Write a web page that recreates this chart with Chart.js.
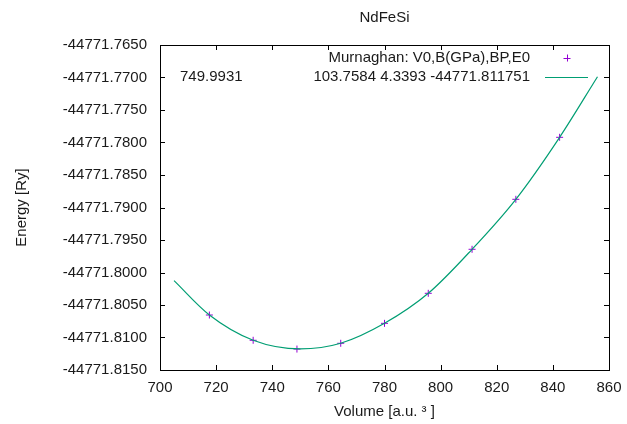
<!DOCTYPE html>
<html>
<head>
<meta charset="utf-8">
<title>NdFeSi</title>
<script src="https://cdn.jsdelivr.net/npm/chart.js@4.4.1/dist/chart.umd.min.js"></script>
<style>
  html, body { margin: 0; padding: 0; background: #fff; }
  #wrap { width: 627px; height: 424px; }
</style>
</head>
<body>
<div id="wrap"><canvas id="myChart"></canvas></div>
<script>
// calculated points
const volumes  = [717.6, 733.2, 748.8, 764.4, 780.0, 795.6, 811.2, 826.8, 842.4];
const energies = [-44771.80654, -44771.81043, -44771.81178, -44771.81089, -44771.80782,
                  -44771.80320, -44771.79643, -44771.78874, -44771.77920];

// Murnaghan fit curve
const fitVolumes  = [705, 717.6, 733.2, 750, 764.4, 780.0, 795.6, 811.2, 826.8, 842.4, 855.9];
const fitEnergies = [-44771.80126, -44771.80654, -44771.81043, -44771.81176, -44771.81089, -44771.80782,
                     -44771.80320, -44771.79643, -44771.78874, -44771.77920, -44771.76988];

const xTicks = [700, 720, 740, 760, 780, 800, 820, 840, 860];
const yTicks = [-44771.815, -44771.810, -44771.805, -44771.800, -44771.795, -44771.790,
                -44771.785, -44771.780, -44771.775, -44771.770, -44771.765];

const pointLabel = 'Murnaghan: V0,B(GPa),BP,E0';
const fitLabel = '749.9931                 103.7584 4.3393 -44771.811751';

const FONT = '"Liberation Sans", Arial, sans-serif';
const TEXT = '#1a1a1a';

// gnuplot style box with tics pointing inwards on all four sides
const gnuFrame = {
  id: 'gnuFrame',
  afterDatasetsDraw(chart) {
    const {ctx, chartArea: a, scales: {x, y}} = chart;
    const len = 5;
    ctx.save();
    ctx.strokeStyle = '#000';
    ctx.lineWidth = 1;
    ctx.beginPath();
    x.ticks.forEach(t => {
      const px = Math.round(x.getPixelForValue(t.value)) + 0.5;
      ctx.moveTo(px, a.bottom); ctx.lineTo(px, a.bottom - len);
      ctx.moveTo(px, a.top); ctx.lineTo(px, a.top + len);
    });
    y.ticks.forEach(t => {
      const py = Math.round(y.getPixelForValue(t.value)) + 0.5;
      ctx.moveTo(a.left, py); ctx.lineTo(a.left + len, py);
      ctx.moveTo(a.right, py); ctx.lineTo(a.right - len, py);
    });
    ctx.stroke();
    ctx.strokeRect(Math.round(a.left) + 0.5, Math.round(a.top) + 0.5,
                   Math.round(a.right - a.left), Math.round(a.bottom - a.top));
    ctx.restore();
  }
};

// key in the top right corner, text right aligned, sample on the right
const keyBox = {
  id: 'keyBox',
  afterDatasetsDraw(chart) {
    const {ctx, chartArea: a} = chart;
    const textRight = a.right - 79;
    const rows = [a.top + 13, a.top + 32];
    ctx.save();
    ctx.font = '15px ' + FONT;
    ctx.textAlign = 'right';
    ctx.textBaseline = 'middle';
    ctx.fillStyle = TEXT;
    chart.data.datasets.forEach((ds, i) => {
      const yy = rows[i];
      ctx.fillText(ds.label, textRight, yy);
      ctx.strokeStyle = ds.borderColor;
      ctx.lineWidth = 1;
      ctx.beginPath();
      if (ds.showLine) {
        ctx.moveTo(a.right - 64, yy + 0.5);
        ctx.lineTo(a.right - 21, yy + 0.5);
      } else {
        const cx = a.right - 42;
        ctx.moveTo(cx - 3.5, yy + 0.5); ctx.lineTo(cx + 3.5, yy + 0.5);
        ctx.moveTo(cx + 0.5, yy - 3.5); ctx.lineTo(cx + 0.5, yy + 3.5);
      }
      ctx.stroke();
    });
    ctx.restore();
  }
};

new Chart(document.getElementById('myChart').getContext('2d'), {
  type: 'scatter',
  data: {
    datasets: [
      {
        label: pointLabel,
        data: volumes.map((v, i) => ({x: v, y: energies[i]})),
        showLine: false,
        pointStyle: 'cross',
        pointRadius: 3.5,
        pointBorderWidth: 1,
        borderColor: '#9400d3',
        backgroundColor: '#9400d3',
        order: 2
      },
      {
        label: fitLabel,
        data: fitVolumes.map((v, i) => ({x: v, y: fitEnergies[i]})),
        showLine: true,
        pointRadius: 0,
        borderWidth: 1.2,
        borderColor: '#009e73',
        cubicInterpolationMode: 'monotone',
        order: 1
      }
    ]
  },
  plugins: [gnuFrame, keyBox],
  options: {
    responsive: true,
    maintainAspectRatio: false,
    animation: false,
    layout: { padding: { left: 0, right: 18, top: 0, bottom: 0 } },
    plugins: {
      legend: { display: false },
      tooltip: { enabled: false },
      title: {
        display: true,
        text: 'NdFeSi',
        fullSize: false,
        color: TEXT,
        font: { family: FONT, size: 15, weight: 'normal' },
        padding: { top: 9, bottom: 18 }
      }
    },
    scales: {
      x: {
        type: 'linear',
        min: 700,
        max: 860,
        afterBuildTicks: s => { s.ticks = xTicks.map(v => ({value: v})); },
        afterFit: s => { s.height = 54; s.paddingLeft = 0; s.paddingRight = 0; },
        grid: { display: false, drawTicks: false },
        border: { display: false },
        ticks: {
          color: TEXT,
          padding: 9,
          font: { family: FONT, size: 15 },
          callback: v => String(v)
        },
        title: {
          display: true,
          text: 'Volume [a.u. ³ ]',
          color: TEXT,
          font: { family: FONT, size: 15 },
          padding: { top: 0, bottom: 3 }
        }
      },
      y: {
        type: 'linear',
        min: yTicks[0],
        max: yTicks[yTicks.length - 1],
        afterBuildTicks: s => { s.ticks = yTicks.map(v => ({value: v})); },
        afterFit: s => { s.width = 160; },
        grid: { display: false, drawTicks: false },
        border: { display: false },
        ticks: {
          color: TEXT,
          padding: 13,
          font: { family: FONT, size: 15 },
          callback: v => v.toFixed(4)
        },
        title: {
          display: true,
          text: 'Energy [Ry]',
          color: TEXT,
          font: { family: FONT, size: 15 },
          padding: { top: 13, bottom: 0 }
        }
      }
    }
  }
});
</script>
</body>
</html>
